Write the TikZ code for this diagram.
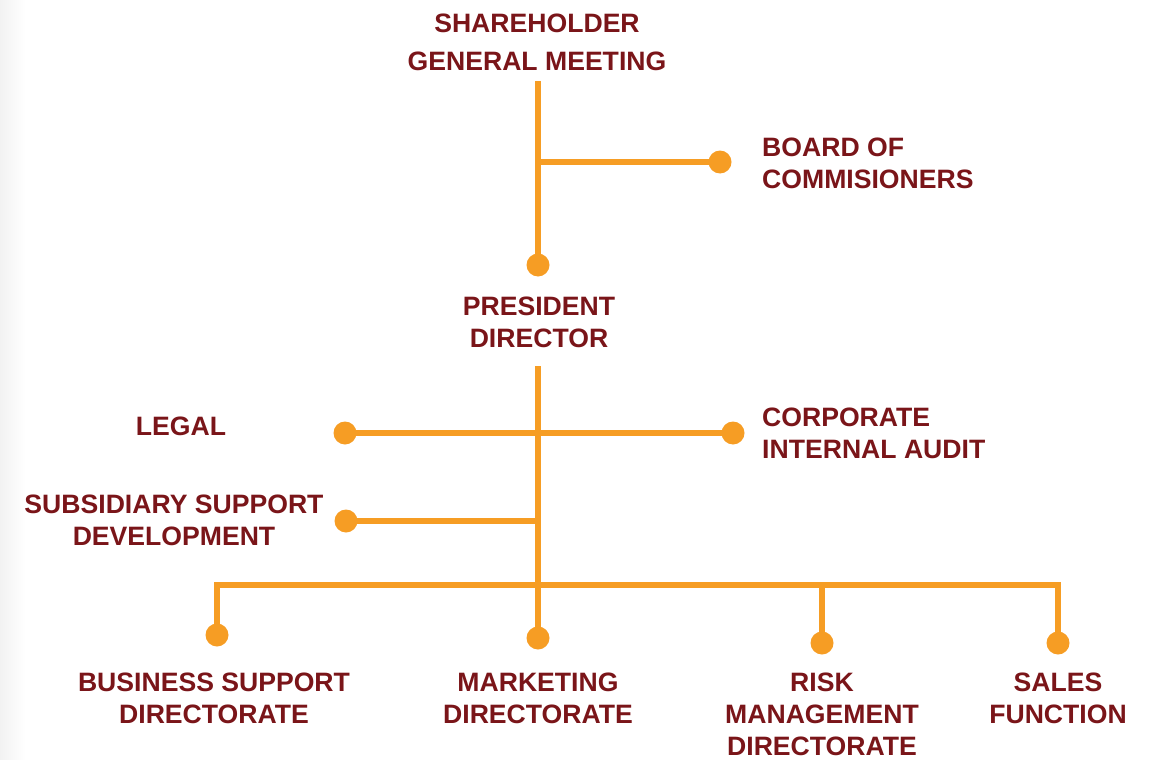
\documentclass[tikz,border=0pt]{standalone}
\usepackage{fontspec}
\setmainfont{Liberation Sans}
\definecolor{lineor}{HTML}{F69D24}
\definecolor{textred}{HTML}{7A1519}
\begin{document}
\begin{tikzpicture}[x=1pt,y=-1pt,
  lbl/.style={font=\bfseries\fontsize{26.6}{32}\selectfont, text=textred, align=center, inner sep=0pt},
  lbll/.style={lbl, align=left, anchor=west},
  dot/.style={circle, fill=lineor, minimum size=23pt, inner sep=0pt},
  conn/.style={draw=lineor, line width=6pt, line join=miter}]
\useasboundingbox (0,0) rectangle (1160,760);
\shade[left color=black!5, right color=white] (0,0) rectangle (26,760);

% labels
\node[lbl, font=\bfseries\fontsize{26.6}{38}\selectfont] (sgm) at (537,42.5) {SHAREHOLDER\\GENERAL MEETING};
\node[lbll] (boc) at (762,163) {BOARD OF\\COMMISIONERS};
\node[lbl] (pd) at (539,322.5) {PRESIDENT\\DIRECTOR};
\node[lbl] (legal) at (181,426) {LEGAL};
\node[lbll] (cia) at (762,433) {CORPORATE\\INTERNAL AUDIT};
\node[lbl] (ssd) at (174,520) {SUBSIDIARY SUPPORT\\DEVELOPMENT};
\node[lbl] (bsd) at (214,698) {BUSINESS SUPPORT\\DIRECTORATE};
\node[lbl] (mkd) at (538,698) {MARKETING\\DIRECTORATE};
\node[lbl] (rmd) at (822,714) {RISK\\MANAGEMENT\\DIRECTORATE};
\node[lbl] (sf) at (1058,698) {SALES\\FUNCTION};

% dots
\node[dot] (dboc) at (720,162) {};
\node[dot] (dpd) at (538,265) {};
\node[dot] (dlegal) at (345,433) {};
\node[dot] (dcia) at (733,433) {};
\node[dot] (dssd) at (346,521) {};
\node[dot] (dbsd) at (217,635) {};
\node[dot] (dmkd) at (538,638) {};
\node[dot] (drmd) at (822,643) {};
\node[dot] (dsf) at (1058,643) {};

% junction coordinates
\coordinate (t1) at (538,81);
\coordinate (j1) at (535,162);
\coordinate (t2) at (538,366);
\coordinate (jssd) at (541,521);
\coordinate (busL) at (217,585);
\coordinate (busR) at (1058,585);
\coordinate (jrmd) at (822,585);

% connectors
\draw[conn] (t1) -- (dpd.center);
\draw[conn] (j1) -- (dboc.center);
\draw[conn] (t2) -- (dmkd.center);
\draw[conn] (dlegal.center) -- (dcia.center);
\draw[conn] (dssd.center) -- (jssd);
\draw[conn] (dbsd.center) -- (busL) -- (busR) -- (dsf.center);
\draw[conn] (jrmd) -- (drmd.center);
\end{tikzpicture}
\end{document}
